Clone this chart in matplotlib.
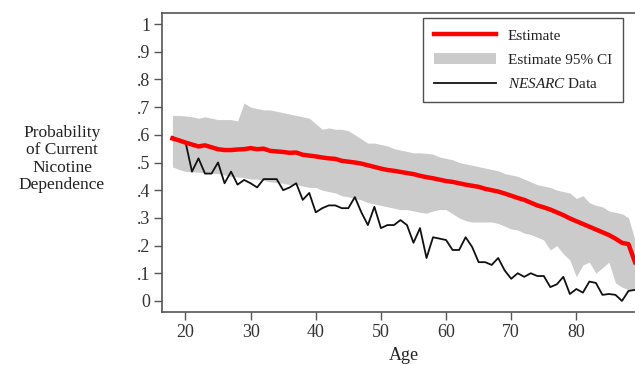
import matplotlib
matplotlib.use("Agg")
import matplotlib.pyplot as plt
import numpy as np

plt.rcParams['font.family'] = ['Liberation Serif', 'DejaVu Serif']
plt.rcParams['mathtext.fontset'] = 'custom'
plt.rcParams['mathtext.it'] = 'Liberation Serif:italic'
plt.rcParams['mathtext.rm'] = 'Liberation Serif'

ages = list(range(18, 90))

estimate = [0.587, 0.58, 0.572, 0.565, 0.558, 0.562, 0.555, 0.548, 0.545, 0.545,
            0.547, 0.548, 0.552, 0.548, 0.550, 0.542, 0.540, 0.538, 0.535, 0.536,
            0.528, 0.525, 0.522, 0.518, 0.515, 0.513, 0.506, 0.503, 0.500, 0.496,
            0.490, 0.484, 0.478, 0.473, 0.470, 0.466, 0.462, 0.458, 0.452, 0.447,
            0.443, 0.438, 0.433, 0.430, 0.425, 0.420, 0.416, 0.412, 0.405, 0.400,
            0.395, 0.388, 0.380, 0.372, 0.365, 0.355, 0.345, 0.338, 0.330, 0.320,
            0.310, 0.298, 0.288, 0.278, 0.268, 0.258, 0.248, 0.238, 0.225, 0.210,
            0.205, 0.140]

ci_upper = [0.67, 0.67, 0.668, 0.665, 0.66, 0.665, 0.66, 0.655, 0.655, 0.655,
            0.65, 0.715, 0.70, 0.695, 0.69, 0.69, 0.685, 0.68, 0.675, 0.67,
            0.665, 0.66, 0.64, 0.62, 0.625, 0.62, 0.62, 0.615, 0.60, 0.585,
            0.57, 0.57, 0.565, 0.56, 0.55, 0.545, 0.54, 0.535, 0.535, 0.533,
            0.53, 0.52, 0.515, 0.51, 0.50, 0.495, 0.49, 0.485, 0.48, 0.475,
            0.47, 0.46, 0.455, 0.45, 0.44, 0.43, 0.42, 0.415, 0.41, 0.40,
            0.395, 0.39, 0.37, 0.38, 0.355, 0.345, 0.34, 0.325, 0.32, 0.315,
            0.30, 0.22]

ci_lower = [0.484, 0.475, 0.468, 0.466, 0.465, 0.462, 0.46, 0.46, 0.455, 0.45,
            0.448, 0.445, 0.44, 0.44, 0.435, 0.43, 0.428, 0.425, 0.42, 0.42,
            0.415, 0.41, 0.41, 0.40, 0.395, 0.39, 0.38, 0.376, 0.37, 0.365,
            0.355, 0.35, 0.345, 0.34, 0.335, 0.33, 0.33, 0.325, 0.32, 0.317,
            0.325, 0.33, 0.33, 0.315, 0.30, 0.29, 0.285, 0.285, 0.285, 0.285,
            0.28, 0.27, 0.26, 0.256, 0.245, 0.24, 0.23, 0.22, 0.184, 0.20,
            0.17, 0.148, 0.087, 0.13, 0.14, 0.10, 0.12, 0.14, 0.065, 0.05,
            0.04, 0.04]

nesarc = [0.593, 0.58, 0.575, 0.467, 0.515, 0.46, 0.46, 0.50, 0.425, 0.467,
          0.42, 0.437, 0.425, 0.41, 0.44, 0.44, 0.44, 0.40, 0.41, 0.425,
          0.365, 0.39, 0.32, 0.335, 0.345, 0.345, 0.335, 0.335, 0.375, 0.32,
          0.274, 0.34, 0.263, 0.274, 0.274, 0.292, 0.274, 0.21, 0.263, 0.155,
          0.23, 0.225, 0.22, 0.184, 0.184, 0.23, 0.195, 0.14, 0.14, 0.13,
          0.155, 0.11, 0.08, 0.10, 0.087, 0.10, 0.09, 0.09, 0.05, 0.06,
          0.087, 0.025, 0.043, 0.03, 0.07, 0.065, 0.022, 0.025, 0.022, 0.0,
          0.036, 0.04]

yticks = [0, 0.1, 0.2, 0.3, 0.4, 0.5, 0.6, 0.7, 0.8, 0.9, 1.0]
ytick_labels = ['0', '.1', '.2', '.3', '.4', '.5', '.6', '.7', '.8', '.9', '1']
xticks = [20, 30, 40, 50, 60, 70, 80]

fig = plt.figure(figsize=(6.35, 3.65), dpi=100)
ax = fig.add_axes([162/635, 53/365, 1 - 162/635, (312-13)/365])

ax.fill_between(ages, ci_lower, ci_upper, color='#cbcbcb', linewidth=0,
                label='Estimate 95% CI', zorder=1)
ax.plot(ages, nesarc, color='#111111', linewidth=1.3, label=r'$\it{NESARC}$ Data', zorder=2)
ax.plot(ages, estimate, color='#ff0000', linewidth=3.2, label='Estimate', zorder=3)

ax.set_xlim(16.4, 89)
ax.set_ylim(-0.04, 1.04)
ax.set_yticks(yticks)
ax.set_yticklabels(ytick_labels)
ax.set_xticks(xticks)

for s in ['left', 'bottom', 'top']:
    ax.spines[s].set_color('#555555')
    ax.spines[s].set_linewidth(1.2)
ax.spines['right'].set_visible(False)
ax.tick_params(axis='both', direction='out', length=5.5, width=1, color='#555555',
               labelcolor='#333333', labelsize=13, pad=3)

handles, labels = ax.get_legend_handles_labels()
order = [2, 0, 1]
leg = fig.legend([handles[i] for i in order], [labels[i] for i in order],
                 loc='upper right', bbox_to_anchor=(623/635, 1 - 18/365),
                 borderaxespad=0, fontsize=11, handlelength=4.1, frameon=True,
                 fancybox=False, edgecolor='#222222', borderpad=0.72,
                 labelspacing=0.68, handletextpad=0.75)
leg.get_frame().set_linewidth(1.0)
for t in leg.get_texts():
    t.set_color('#222222')

fig.text(62/635, 1 - 159/365, 'Probability\nof Current\nNicotine\nDependence',
         ha='center', va='center', fontsize=12.5, color='#222222', linespacing=1.12)
fig.text(404/635, 1 - 355/365, 'Age', ha='center', va='center', fontsize=13,
         color='#222222')

fig.savefig('out.png', dpi=100)
